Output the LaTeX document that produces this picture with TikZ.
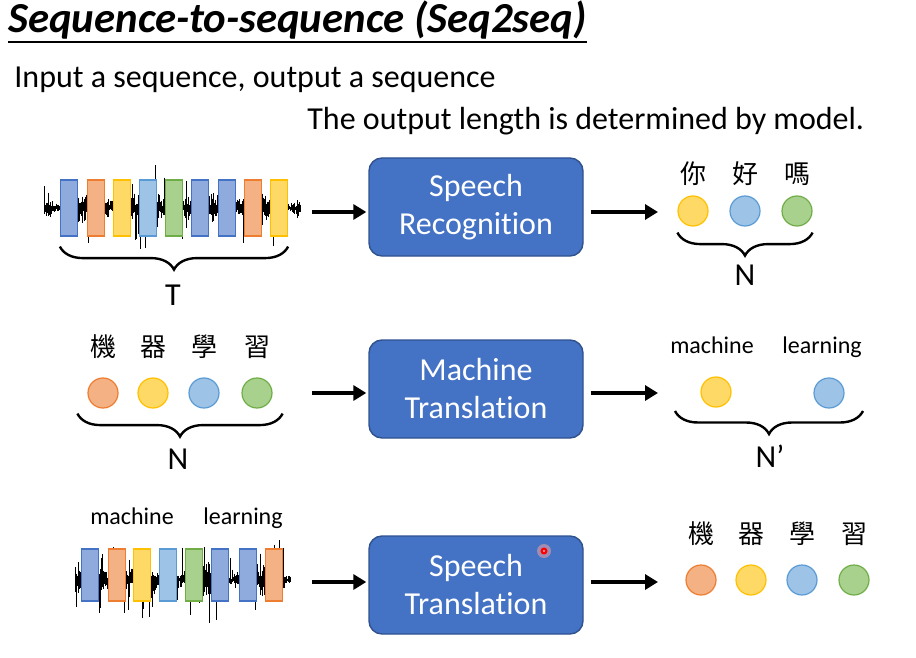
\documentclass[tikz,border=0pt]{standalone}
\usepackage{fontspec}
\setmainfont[Ligatures=NoCommon]{Carlito}
\newfontfamily\cjk{Noto Sans CJK TC}
\usepackage{tikz}
\usetikzlibrary{arrows.meta,decorations.pathreplacing,positioning}

\definecolor{tokB}{HTML}{8FAADC}\definecolor{tokBd}{HTML}{4472C4}
\definecolor{tokO}{HTML}{F4B183}\definecolor{tokOd}{HTML}{ED7D31}
\definecolor{tokY}{HTML}{FFD966}\definecolor{tokYd}{HTML}{FFC000}
\definecolor{tokL}{HTML}{9DC3E6}\definecolor{tokLd}{HTML}{5B9BD5}
\definecolor{tokG}{HTML}{A9D18E}\definecolor{tokGd}{HTML}{70AD47}
\definecolor{boxfill}{HTML}{4472C4}\definecolor{boxline}{HTML}{2F528F}

\tikzset{
  model/.style={rectangle,rounded corners=6.5pt,fill=boxfill,draw=boxline,line width=0.7pt,
    text=white,align=center,minimum width=107pt,minimum height=49pt,
    font=\fontsize{16}{19}\selectfont},
  tok/.style={rectangle,fill=#1,draw=#1d,line width=0.6pt,minimum width=8.5pt,
    minimum height=28pt,inner sep=0pt},
  dot/.style={circle,fill=#1,draw=#1d,line width=0.6pt,minimum size=15pt,inner sep=0pt},
  arr/.style={-{Triangle[length=6.5pt,width=7.5pt]},line width=2pt},
  brc/.style={decorate,decoration={brace,mirror,amplitude=11.5pt},line width=1.2pt},
  txt/.style={inner sep=0pt,font=\fontsize{16}{19}\selectfont},
  word/.style={inner sep=0pt,font=\fontsize{12}{14}\selectfont},
  zh/.style={inner sep=0pt,font=\cjk\fontsize{13}{15}\selectfont},
}

% x0, x1, y
\newcommand{\speechwave}[3]{%
  \foreach \xx [evaluate=\xx as \hh using {(3+14*rnd)*(0.2+0.8*abs(sin(3.1*\xx)))+30*rnd^16},
                evaluate=\xx as \hl using {(3+14*rnd)*(0.2+0.8*abs(sin(3.1*\xx)))+30*rnd^16}]
    in {#1,...,#2} {\draw[line width=0.5pt] (\xx,#3-\hh) -- (\xx,#3+\hl);}}

\begin{document}
\begin{tikzpicture}[x=0.5pt,y=-0.5pt]
\pgfmathsetseed{11}
\useasboundingbox (0,0) rectangle (916,658);

\node[anchor=base west,inner sep=0pt,font=\fontsize{21.4}{25}\selectfont\bfseries\itshape] (title) at (8,33) {Sequence-to-sequence (Seq2seq)};
\draw[line width=0.8pt] ([yshift=-4.5pt]title.base west) -- ([yshift=-4.5pt]title.base east);
\node[txt,anchor=base west] (sub) at (14,88) {Input a sequence, output a sequence};
\node[txt,anchor=base west] (note) at (307,130) {The output length is determined by model.};

% speech recognition
\speechwave{44}{300}{208}
\foreach \xc/\cl [count=\k] in {69/tokB,96/tokO,122/tokY,148/tokL,174/tokG,200/tokB,227/tokB,253/tokO,279/tokY}
  \node[tok=\cl] (sa\k) at (\xc,208) {};
\draw[brc] ([yshift=-5pt]sa1.south west) -- ([yshift=-5pt]sa9.south east);
\node[txt] (T) at (173,295) {T};
\node[model] (sr) at (476,207) {Speech\\Recognition};
\coordinate (in1) at (312,212);
\coordinate (out1) at (658,212);
\draw[arr,shorten >=1pt] (in1) -- (in1 -| sr.west);
\draw[arr] ([xshift=3.5pt]sr.east |- out1) -- (out1);
\foreach \xc/\cl/\ch [count=\k] in {693/tokY/你,745/tokL/好,797/tokG/嗎}{
  \node[dot=\cl] (ra\k) at (\xc,211) {};
  \node[zh] (rz\k) at (\xc,174) {\ch};
}
\draw[brc] ([yshift=-3pt]ra1.west |- ra1.south) -- ([yshift=-3pt]ra3.east |- ra3.south);
\node[txt] (N1) at (745,275) {N};

% machine translation
\foreach \xc/\cl/\ch [count=\k] in {103/tokO/機,153/tokY/器,204/tokL/學,257/tokG/習}{
  \node[dot=\cl] (ma\k) at (\xc,393) {};
  \node[zh] (mz\k) at (\xc,347) {\ch};
}
\draw[brc] ([xshift=-5pt,yshift=-2.5pt]ma1.west |- ma1.south) -- ([xshift=5pt,yshift=-2.5pt]ma4.east |- ma4.south);
\node[txt] (N2) at (178,459) {N};
\node[model] (mt) at (476,389) {Machine\\Translation};
\coordinate (in2) at (312,393);
\coordinate (out2) at (658,393);
\draw[arr,shorten >=1pt] (in2) -- (in2 -| mt.west);
\draw[arr] ([xshift=3.5pt]mt.east |- out2) -- (out2);
\node[dot=tokY] (mb1) at (716,392) {};
\node[dot=tokL] (mb2) at (829,393) {};
\node[word,anchor=base] (mw1) at (712,353) {machine};
\node[word,anchor=base] (mw2) at (822,353) {learning};
\draw[brc] (675,411) -- (863,411);
\node[txt] (N3) at (770,456) {N’};

% speech translation
\speechwave{75}{290}{580}
\foreach \xc/\cl [count=\k] in {90/tokB,117/tokO,142/tokY,168/tokL,194/tokG,220/tokB,248/tokB,274/tokO}
  \node[tok=\cl,minimum height=26pt] (sb\k) at (\xc,575) {};
\node[word,anchor=base] (sw1) at (132,524) {machine};
\node[word,anchor=base] (sw2) at (243,524) {learning};
\node[model] (st) at (476,585) {Speech\\Translation};
\coordinate (in3) at (312,582);
\coordinate (out3) at (658,582);
\draw[arr,shorten >=1pt] (in3) -- (in3 -| st.west);
\draw[arr] ([xshift=3.5pt]st.east |- out3) -- (out3);
\foreach \xc/\cl/\ch [count=\k] in {701/tokO/機,751/tokY/器,802/tokL/學,854/tokG/習}{
  \node[dot=\cl] (tb\k) at (\xc,580) {};
  \node[zh] (tz\k) at (\xc,534) {\ch};
}
\fill[red!35,opacity=0.5] (544,551) circle (7);
\fill[red] (544,551) circle (3.5);
\fill[red!30!white] (544,551) circle (1.2);
\end{tikzpicture}
\end{document}
